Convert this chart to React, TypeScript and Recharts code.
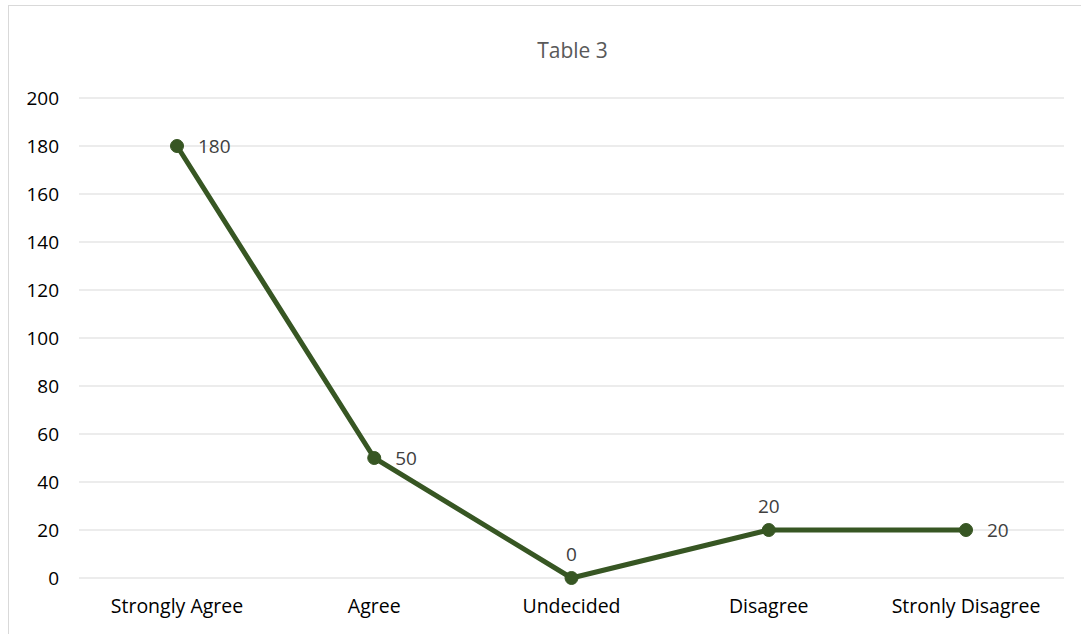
import { LineChart, Line, XAxis, YAxis, CartesianGrid, LabelList } from 'recharts';

const categories = ['Strongly Agree', 'Agree', 'Undecided', 'Disagree', 'Stronly Disagree'];
const responses = [180, 50, 0, 20, 20];
const yTicks = [0, 20, 40, 60, 80, 100, 120, 140, 160, 180, 200];

const data = categories.map((name, i) => ({ name, value: responses[i] }));

const FONT = '"Open Sans", "Noto Sans", sans-serif';
const GREEN = '#375623';

// labels sit to the right of the point, except where the line climbs out of a dip
const labelAbove = new Set([2, 3]);

function PointLabel(props: any) {
  const { x, y, value, index } = props;
  if (labelAbove.has(index)) {
    return (
      <text x={x} y={y - 24} textAnchor="middle" dominantBaseline="central" fill="#404040" fontSize={19} fontFamily={FONT}>
        {value}
      </text>
    );
  }
  return (
    <text x={x + 21} y={y} textAnchor="start" dominantBaseline="central" fill="#404040" fontSize={19} fontFamily={FONT}>
      {value}
    </text>
  );
}

export default function App() {
  return (
    <div
      style={{
        position: 'absolute',
        left: 8,
        top: 5,
        width: 1080,
        height: 640,
        border: '1px solid #d9d9d9',
        background: '#fff',
        fontFamily: FONT,
      }}
    >
      <div
        style={{
          position: 'absolute',
          top: 30,
          left: 0,
          width: 1127,
          textAlign: 'center',
          fontSize: 21,
          color: '#595959',
        }}
      >
        Table 3
      </div>
      <LineChart width={1073} height={629} data={data} margin={{ top: 92, right: 18, left: 10, bottom: 27 }}>
        <CartesianGrid vertical={false} stroke="#d9d9d9" strokeWidth={1} />
        <XAxis
          dataKey="name"
          axisLine={false}
          tickLine={false}
          tickSize={0}
          tickMargin={21}
          height={30}
          interval={0}
          padding={{ left: 98, right: 98 }}
          tick={{ fill: '#000', fontSize: 19.5, fontFamily: FONT }}
        />
        <YAxis
          domain={[0, 200]}
          ticks={yTicks}
          axisLine={false}
          tickLine={false}
          tickSize={0}
          tickMargin={20}
          width={60}
          tick={{ fill: '#000', fontSize: 19, fontFamily: FONT }}
        />
        <Line
          type="linear"
          dataKey="value"
          stroke={GREEN}
          strokeWidth={5}
          dot={{ r: 6.5, fill: GREEN, stroke: GREEN, strokeWidth: 1 }}
          activeDot={false}
          isAnimationActive={false}
        >
          <LabelList dataKey="value" content={PointLabel} />
        </Line>
      </LineChart>
    </div>
  );
}
